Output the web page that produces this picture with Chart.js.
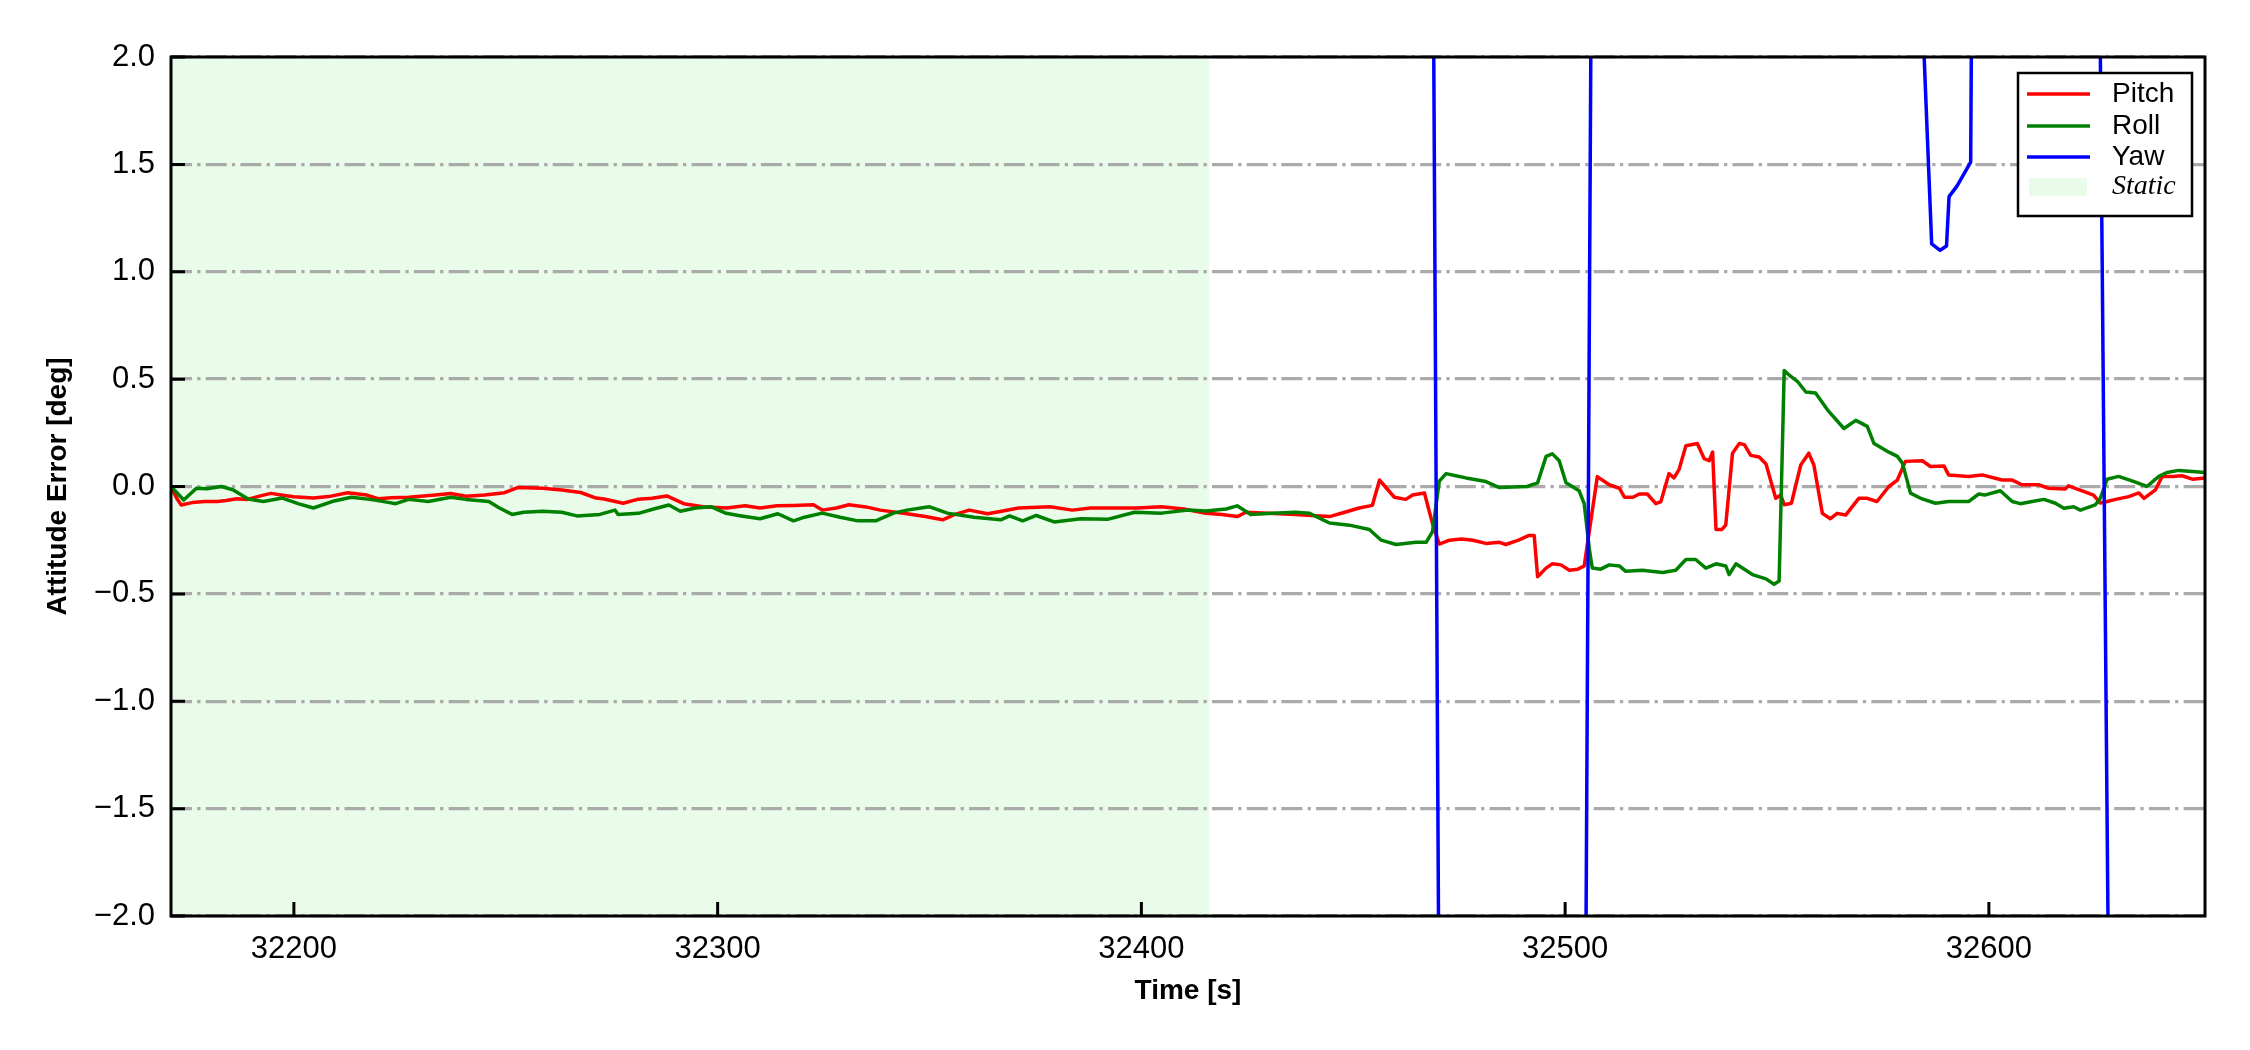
<!DOCTYPE html>
<html lang="en">
<head>
    <meta charset="UTF-8">
    <title>Attitude Error</title>
    <script src="https://cdn.jsdelivr.net/npm/chart.js"></script>
    <style>
        body {
            margin: 0;
            padding: 0;
            background: #fff;
        }
        canvas {
            display: block;
        }
    </style>
</head>
<body>
    <canvas id="myChart" width="2250" height="1050"></canvas>

    <script>
        // axes
        const xMin = 32171;
        const xMax = 32651;
        const yMin = -2.0;
        const yMax = 2.0;
        const xTicks = [32200, 32300, 32400, 32500, 32600];
        const yTicks = [-2.0, -1.5, -1.0, -0.5, 0.0, 0.5, 1.0, 1.5, 2.0];

        // static period [s]
        const staticSpan = [32171, 32416];

        // pitch error [deg]
        const pitchT = [32171.0, 32172.5, 32173.4, 32176.0, 32179.0, 32182.0, 32184.0, 32186.5, 32189.0, 32192.8,
            32194.6, 32197.0, 32200.0, 32204.6, 32208.2, 32212.7, 32217.2, 32219.9, 32223.0, 32227.1,
            32233.4, 32237.0, 32240.6, 32245.0, 32249.7, 32252.8, 32258.7, 32263.2, 32267.7, 32271.3,
            32273.2, 32277.7, 32281.3, 32284.5, 32288.0, 32292.0, 32296.6, 32302.0, 32306.5, 32310.0,
            32314.0, 32318.0, 32322.6, 32324.7, 32328.0, 32331.0, 32335.0, 32338.4, 32344.7, 32349.0,
            32353.1, 32356.0, 32359.4, 32363.7, 32367.0, 32371.0, 32378.4, 32383.7, 32388.0, 32394.2,
            32399.0, 32404.7, 32410.0, 32415.2, 32419.0, 32422.6, 32424.7, 32430.0, 32436.3, 32440.0,
            32444.4, 32448.0, 32451.4, 32454.5, 32456.2, 32457.5, 32459.7, 32462.4, 32464.0, 32466.8,
            32468.7, 32470.3, 32472.7, 32475.5, 32478.2, 32481.3, 32484.5, 32486.0, 32489.0, 32491.5,
            32492.7, 32493.5, 32495.5, 32497.0, 32499.0, 32501.0, 32503.0, 32504.5, 32507.6, 32510.4,
            32512.8, 32514.0, 32516.0, 32517.5, 32519.4, 32521.4, 32522.6, 32524.5, 32525.7, 32526.9,
            32528.5, 32531.2, 32532.8, 32534.0, 32534.8, 32535.6, 32537.0, 32537.9, 32539.5, 32541.1,
            32542.3, 32543.8, 32545.8, 32547.4, 32549.7, 32550.9, 32551.7, 32553.4, 32555.6, 32557.5,
            32558.7, 32560.7, 32562.6, 32564.2, 32566.2, 32569.3, 32571.3, 32573.6, 32576.4, 32578.4,
            32580.3, 32584.3, 32586.2, 32589.4, 32590.5, 32595.2, 32598.4, 32603.1, 32605.5, 32607.8,
            32611.7, 32614.1, 32618.0, 32618.8, 32622.0, 32624.7, 32626.3, 32627.9, 32629.9, 32633.0,
            32635.4, 32636.6, 32639.3, 32640.9, 32643.3, 32645.6, 32648.0, 32651.0];
        const pitchV = [0.0, -0.06, -0.086, -0.075, -0.07, -0.07, -0.065, -0.057, -0.06, -0.04,
            -0.032, -0.04, -0.048, -0.054, -0.047, -0.029, -0.04, -0.057, -0.052, -0.05,
            -0.04, -0.033, -0.045, -0.04, -0.029, -0.005, -0.008, -0.016, -0.028, -0.054,
            -0.058, -0.078, -0.059, -0.055, -0.044, -0.08, -0.094, -0.1, -0.09, -0.1,
            -0.09, -0.088, -0.085, -0.11, -0.1, -0.085, -0.095, -0.11, -0.127, -0.14,
            -0.155, -0.13, -0.11, -0.127, -0.115, -0.1, -0.094, -0.11, -0.1, -0.1,
            -0.1, -0.094, -0.105, -0.125, -0.13, -0.14, -0.12, -0.125, -0.13, -0.135,
            -0.14, -0.12, -0.1, -0.088, 0.03, 0.0, -0.05, -0.06, -0.04, -0.03,
            -0.173, -0.268, -0.25, -0.245, -0.25, -0.265, -0.26, -0.27, -0.25, -0.228,
            -0.228, -0.42, -0.38, -0.36, -0.365, -0.39, -0.385, -0.37, 0.046, 0.008,
            -0.008, -0.05, -0.05, -0.035, -0.035, -0.08, -0.07, 0.06, 0.04, 0.08,
            0.19, 0.2, 0.13, 0.12, 0.16, -0.2, -0.2, -0.18, 0.155, 0.2,
            0.195, 0.145, 0.137, 0.105, -0.055, -0.04, -0.085, -0.078, 0.1, 0.155,
            0.1, -0.125, -0.15, -0.125, -0.133, -0.055, -0.055, -0.07, 0.0, 0.03,
            0.117, 0.12, 0.093, 0.096, 0.054, 0.047, 0.054, 0.03, 0.03, 0.008,
            0.008, -0.008, -0.012, 0.003, -0.02, -0.04, -0.077, -0.07, -0.06, -0.047,
            -0.03, -0.055, -0.016, 0.047, 0.047, 0.05, 0.034, 0.04];

        // roll error [deg]
        const rollT = [32171.0, 32174.0, 32177.0, 32179.5, 32182.9, 32185.6, 32189.2, 32192.8, 32197.3, 32201.0,
            32204.6, 32209.0, 32213.5, 32218.0, 32222.6, 32224.0, 32227.1, 32231.7, 32237.0, 32240.6,
            32246.0, 32248.5, 32251.5, 32254.2, 32258.7, 32263.2, 32266.8, 32272.2, 32275.8, 32276.5,
            32281.3, 32284.9, 32288.5, 32291.2, 32294.8, 32298.4, 32302.0, 32305.6, 32310.0, 32314.2,
            32317.9, 32320.5, 32324.7, 32328.9, 32333.1, 32337.3, 32341.5, 32344.7, 32349.9, 32354.2,
            32360.5, 32366.8, 32368.9, 32372.0, 32375.2, 32379.4, 32385.7, 32392.0, 32398.4, 32404.7,
            32411.0, 32415.2, 32420.0, 32422.6, 32425.8, 32431.0, 32436.3, 32439.7, 32444.4, 32449.1,
            32453.8, 32456.6, 32460.1, 32464.8, 32467.2, 32468.7, 32470.3, 32471.9, 32474.2, 32476.6,
            32481.3, 32484.5, 32487.6, 32491.0, 32493.5, 32495.5, 32497.0, 32498.6, 32500.2, 32503.3,
            32504.5, 32505.7, 32506.4, 32508.4, 32510.4, 32512.8, 32514.3, 32518.2, 32523.0, 32526.1,
            32528.5, 32530.8, 32533.2, 32535.6, 32537.9, 32538.7, 32540.3, 32544.2, 32547.4, 32549.3,
            32550.5, 32551.7, 32552.8, 32554.8, 32556.8, 32559.1, 32561.9, 32565.8, 32568.6, 32571.3,
            32572.9, 32576.4, 32578.4, 32579.6, 32581.5, 32583.9, 32587.4, 32590.5, 32595.2, 32597.6,
            32599.0, 32602.7, 32605.5, 32607.4, 32610.2, 32613.0, 32615.7, 32617.7, 32620.0, 32621.6,
            32625.1, 32626.3, 32627.9, 32630.6, 32634.6, 32637.3, 32640.1, 32642.0, 32644.8, 32648.0,
            32651.0];
        const rollV = [0.0, -0.063, -0.008, -0.01, 0.0, -0.015, -0.058, -0.07, -0.054, -0.08,
            -0.1, -0.07, -0.05, -0.06, -0.075, -0.08, -0.06, -0.07, -0.05, -0.06,
            -0.07, -0.1, -0.13, -0.12, -0.115, -0.12, -0.137, -0.13, -0.11, -0.13,
            -0.125, -0.105, -0.086, -0.115, -0.1, -0.094, -0.125, -0.137, -0.15, -0.127,
            -0.16, -0.143, -0.124, -0.143, -0.16, -0.16, -0.124, -0.11, -0.094, -0.124,
            -0.143, -0.155, -0.137, -0.16, -0.135, -0.165, -0.15, -0.153, -0.12, -0.124,
            -0.11, -0.114, -0.105, -0.09, -0.13, -0.125, -0.12, -0.125, -0.17, -0.18,
            -0.2, -0.25, -0.27, -0.26, -0.26, -0.21, 0.025, 0.06, 0.05, 0.04,
            0.023, -0.005, -0.002, 0.0, 0.017, 0.14, 0.152, 0.12, 0.017, -0.02,
            -0.08, -0.29, -0.38, -0.385, -0.365, -0.37, -0.395, -0.39, -0.4, -0.39,
            -0.34, -0.34, -0.38, -0.36, -0.37, -0.41, -0.36, -0.41, -0.43, -0.455,
            -0.44, 0.54, 0.52, 0.49, 0.44, 0.435, 0.357, 0.27, 0.308, 0.28,
            0.2, 0.16, 0.14, 0.109, -0.031, -0.055, -0.078, -0.07, -0.07, -0.035,
            -0.04, -0.02, -0.07, -0.08, -0.07, -0.06, -0.078, -0.101, -0.094, -0.11,
            -0.086, -0.055, 0.034, 0.047, 0.02, 0.0, 0.047, 0.065, 0.075, 0.07,
            0.065];

        // yaw error [deg], mostly outside the plotted range
        const yawT = [32171.0, 32300.0, 32468.5, 32470.5, 32504.5, 32506.5, 32583.5, 32586.5, 32588.5, 32590.0,
            32590.6, 32592.5, 32595.7, 32596.8, 32625.5, 32629.0, 32651.0];
        const yawV = [6.0, 5.0, 3.8, -3.4, -3.6, 3.6, 2.6, 1.13, 1.10, 1.12,
            1.35, 1.40, 1.51, 5.0, 3.8, -4.0, -5.0];

        const toPoints = (ts, vs) => ts.map((t, i) => ({x: t, y: vs[i]}));

        const fontFamily = "'Liberation Sans', Arial, sans-serif";
        const staticColor = 'rgba(144, 238, 144, 0.2)';
        Chart.defaults.font.family = fontFamily;
        Chart.defaults.color = '#000';

        // vert. band for the static period, under the grid
        const staticBand = {
            id: 'staticBand',
            beforeDraw(chart) {
                const {ctx, chartArea: a, scales: {x}} = chart;
                const x0 = x.getPixelForValue(staticSpan[0]);
                const x1 = x.getPixelForValue(staticSpan[1]);
                ctx.save();
                ctx.fillStyle = staticColor;
                ctx.fillRect(x0, a.top, x1 - x0, a.bottom - a.top);
                ctx.restore();
            }
        };

        // box around the plot + inward ticks
        const frame = {
            id: 'frame',
            afterDatasetsDraw(chart) {
                const {ctx, chartArea: a, scales: {x, y}} = chart;
                ctx.save();
                ctx.strokeStyle = '#000';
                ctx.lineWidth = 3;
                ctx.beginPath();
                yTicks.forEach(v => {
                    const py = y.getPixelForValue(v);
                    ctx.moveTo(a.left, py);
                    ctx.lineTo(a.left + 14, py);
                });
                xTicks.forEach(v => {
                    const px = x.getPixelForValue(v);
                    ctx.moveTo(px, a.bottom);
                    ctx.lineTo(px, a.bottom - 14);
                });
                ctx.stroke();
                ctx.strokeRect(a.left, a.top, a.right - a.left, a.bottom - a.top);
                ctx.restore();
            }
        };

        // legend box in the upper right corner
        const boxLegend = {
            id: 'boxLegend',
            afterDraw(chart) {
                const ctx = chart.ctx;
                const bx = 2018, by = 73, bw = 174, bh = 143;
                const rows = [94, 126, 157, 187];
                ctx.save();
                ctx.fillStyle = '#fff';
                ctx.fillRect(bx, by, bw, bh);
                ctx.lineWidth = 2.5;
                ctx.strokeStyle = '#000';
                ctx.strokeRect(bx, by, bw, bh);
                ctx.textBaseline = 'middle';
                ctx.textAlign = 'left';
                chart.data.datasets.forEach((ds, i) => {
                    ctx.strokeStyle = ds.borderColor;
                    ctx.lineWidth = 3.5;
                    ctx.beginPath();
                    ctx.moveTo(bx + 9, rows[i]);
                    ctx.lineTo(bx + 72, rows[i]);
                    ctx.stroke();
                    ctx.fillStyle = '#000';
                    ctx.font = '28px ' + fontFamily;
                    ctx.fillText(ds.label, bx + 94, rows[i]);
                });
                ctx.fillStyle = staticColor;
                ctx.fillRect(bx + 11, rows[3] - 9, 58, 18);
                ctx.fillStyle = '#000';
                ctx.font = "italic 28px 'Liberation Serif', 'Times New Roman', serif";
                ctx.fillText('Static', bx + 94, rows[3]);
                ctx.restore();
            }
        };

        const ctx = document.getElementById('myChart').getContext('2d');
        const chart = new Chart(ctx, {
            type: 'line',
            data: {
                datasets: [
                    {
                        label: 'Pitch',
                        data: toPoints(pitchT, pitchV),
                        borderColor: '#ff0000',
                        order: 2
                    },
                    {
                        label: 'Roll',
                        data: toPoints(rollT, rollV),
                        borderColor: '#008000',
                        order: 1
                    },
                    {
                        label: 'Yaw',
                        data: toPoints(yawT, yawV),
                        borderColor: '#0000ff',
                        order: 0
                    }
                ]
            },
            options: {
                responsive: false,
                animation: false,
                devicePixelRatio: 1,
                layout: {
                    padding: {left: 0, top: 57, right: 45, bottom: 0}
                },
                elements: {
                    line: {borderWidth: 3.5, tension: 0, borderJoinStyle: 'round', fill: false},
                    point: {radius: 0, hoverRadius: 0}
                },
                scales: {
                    x: {
                        type: 'linear',
                        min: xMin,
                        max: xMax,
                        afterFit: s => { s.height = 134; },
                        afterBuildTicks: s => { s.ticks = xTicks.map(v => ({value: v})); },
                        grid: {display: false, drawTicks: false},
                        border: {display: false},
                        ticks: {
                            font: {size: 31},
                            padding: 15,
                            maxRotation: 0,
                            callback: v => String(v)
                        },
                        title: {
                            display: true,
                            text: 'Time [s]',
                            font: {size: 28, weight: 'bold'},
                            padding: {top: 42, bottom: 42}
                        }
                    },
                    y: {
                        min: yMin,
                        max: yMax,
                        afterFit: s => { s.width = 171; },
                        afterBuildTicks: s => { s.ticks = yTicks.map(v => ({value: v})); },
                        grid: {color: '#aaaaaa', lineWidth: 3.3, drawTicks: false},
                        border: {display: false, dash: [21, 5.2, 3.3, 5.2]},
                        ticks: {
                            font: {size: 31},
                            padding: 16,
                            callback: v => v.toFixed(1).replace('-', '\u2212')
                        },
                        title: {
                            display: true,
                            text: 'Attitude Error [deg]',
                            font: {size: 28, weight: 'bold'},
                            padding: {top: 41, bottom: 41}
                        }
                    }
                },
                plugins: {
                    legend: {display: false},
                    tooltip: {enabled: false}
                }
            },
            plugins: [staticBand, frame, boxLegend]
        });
    </script>
</body>
</html>
